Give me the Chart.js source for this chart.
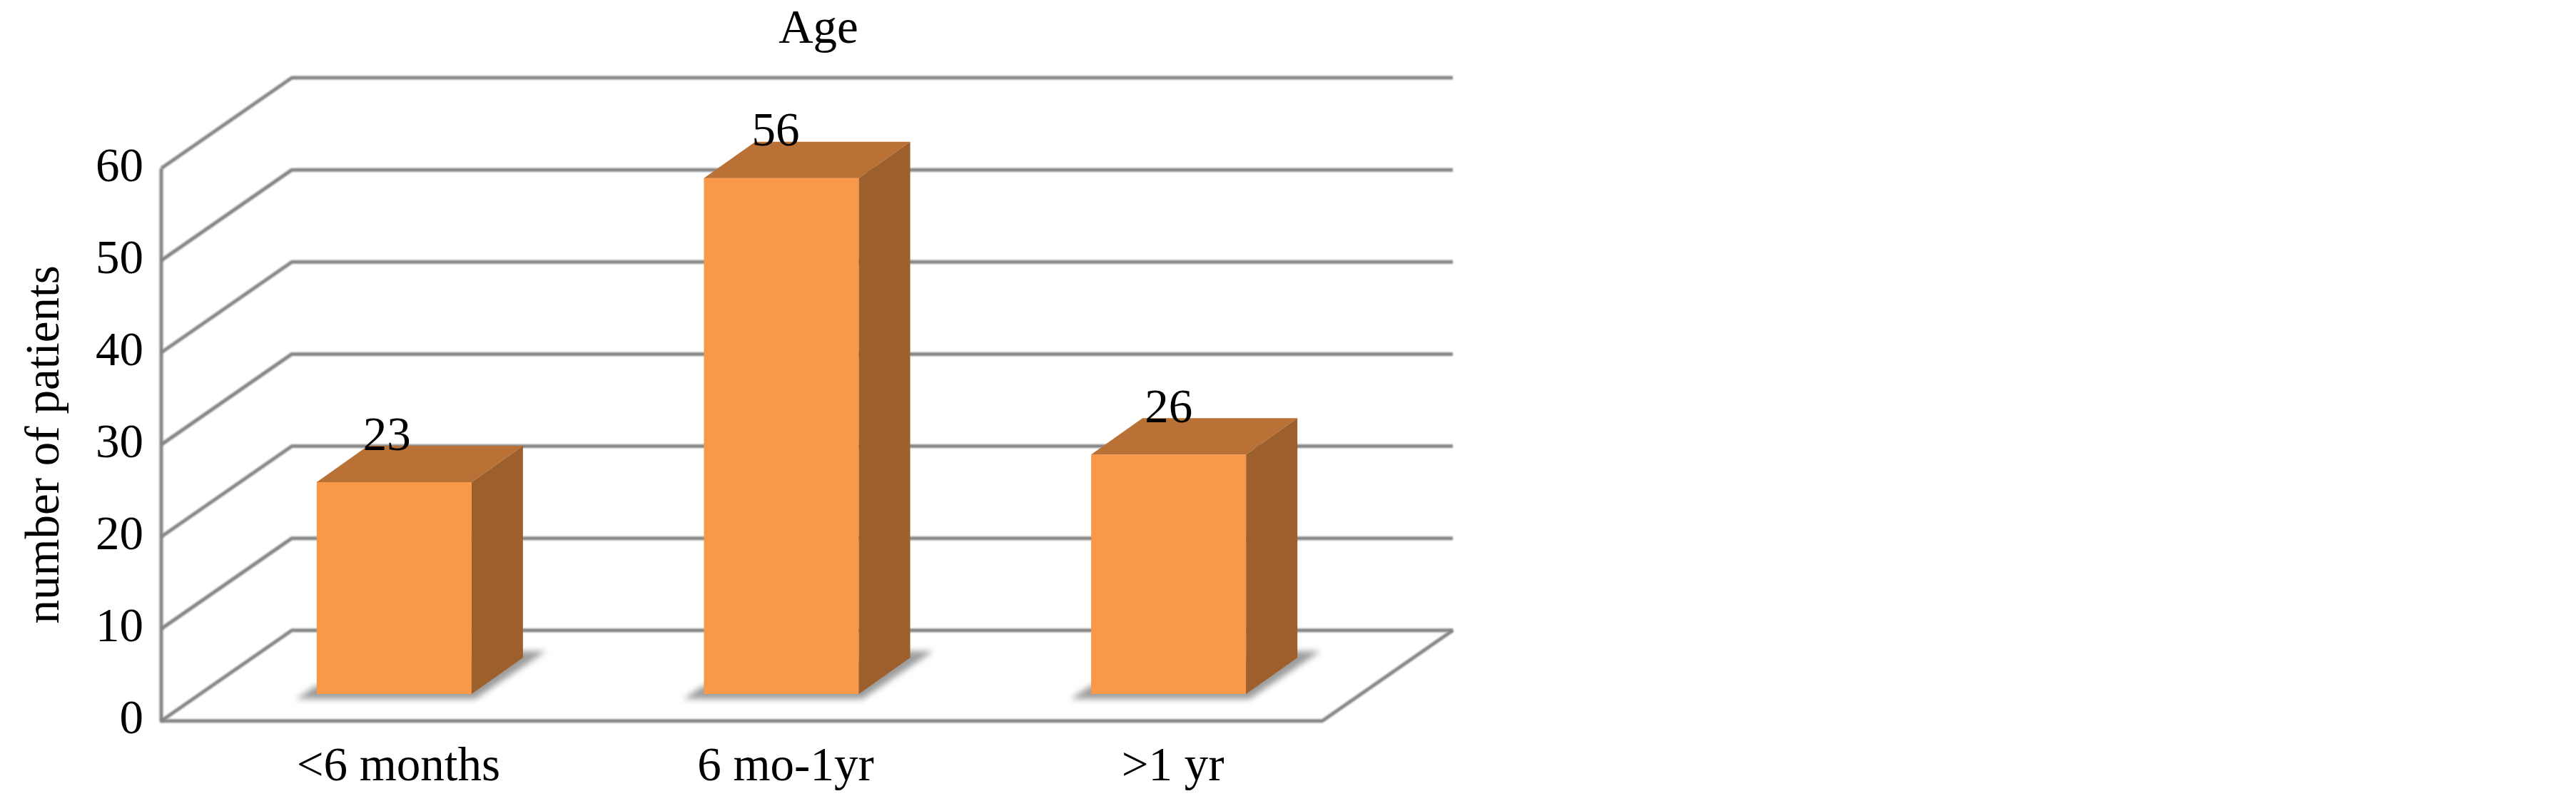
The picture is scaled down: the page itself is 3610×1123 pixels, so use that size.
<!DOCTYPE html>
<html>
<head>
<meta charset="utf-8">
<title>Age</title>
<script src="https://cdn.jsdelivr.net/npm/chart.js@4/dist/chart.umd.min.js"></script>
<style>
    html, body { margin: 0; padding: 0; background: #ffffff; }
    canvas { display: block; }
</style>
</head>
<body>
<canvas id="ageChart" width="3610" height="1123"></canvas>
<script>
const categories = ['<6 months', '6 mo-1yr', '>1 yr'];
const patients = [23, 56, 26];
const chartTitle = 'Age';
const yAxisTitle = 'number of patients';
const dataLabelNudge = [-10, -8, 0];

const font = '"Liberation Serif", "Times New Roman", serif';
const fontSize = 67;
const lineColor = '#858585';

// pseudo 3D box, the walls sit behind the front plane
const wall = { left: 226, floorRight: 1853, dx: 183, dy: 127 };
const depth = { dx: 72, dy: 51 };
// bars stand further back on the floor than the front axis
const barBaseLift = 2.93;

function line(ctx, points, width) {
    ctx.beginPath();
    points.forEach((p, i) => i ? ctx.lineTo(p[0], p[1]) : ctx.moveTo(p[0], p[1]));
    ctx.lineWidth = width;
    ctx.strokeStyle = lineColor;
    ctx.lineJoin = 'round';
    ctx.stroke();
}

function face(ctx, points, color) {
    ctx.beginPath();
    points.forEach((p, i) => i ? ctx.lineTo(p[0], p[1]) : ctx.moveTo(p[0], p[1]));
    ctx.closePath();
    ctx.fillStyle = color;
    ctx.fill();
}

const box3d = {
    id: 'box3d',
    beforeDatasetsDraw(chart) {
        const ctx = chart.ctx;
        const y = chart.scales.y;
        const backLeft = wall.left + wall.dx;
        const backRight = wall.floorRight + wall.dx;

        ctx.save();
        ctx.filter = 'blur(0.8px)';
        y.ticks.forEach((tick, i) => {
            const py = y.getPixelForTick(i);
            line(ctx, [[wall.left, py], [backLeft, py - wall.dy], [backRight, py - wall.dy]], 5);
        });
        const y0 = y.getPixelForValue(0);
        line(ctx, [[wall.left, y.getPixelForValue(60)], [wall.left, y0], [wall.floorRight, y0], [backRight, y0 - wall.dy]], 5);

        // soft shadow on the floor
        ctx.filter = 'blur(4px)';
        chart.getDatasetMeta(0).data.forEach(bar => {
            const l = bar.x - bar.width / 2;
            const r = bar.x + bar.width / 2;
            face(ctx, [[l - 29, bar.base + 7], [r + 5, bar.base + 7], [r + 104, bar.base - 60], [r + 70, bar.base - 60], [l, bar.base - 12]], '#9c9c9c');
        });
        ctx.restore();
    },
    afterDatasetsDraw(chart) {
        const ctx = chart.ctx;
        ctx.save();
        chart.getDatasetMeta(0).data.forEach((bar, i) => {
            const l = bar.x - bar.width / 2;
            const r = bar.x + bar.width / 2;
            face(ctx, [[l, bar.y], [r, bar.y], [r + depth.dx, bar.y - depth.dy], [l + depth.dx, bar.y - depth.dy]], '#b97135');
            face(ctx, [[r, bar.y], [r + depth.dx, bar.y - depth.dy], [r + depth.dx, bar.base - depth.dy], [r, bar.base]], '#9d5f2b');

            ctx.fillStyle = '#000000';
            ctx.font = fontSize + 'px ' + font;
            ctx.textAlign = 'center';
            ctx.textBaseline = 'middle';
            ctx.fillText(patients[i], bar.x + dataLabelNudge[i], bar.y - 63);
        });
        // title is centred over the plot box, not the canvas
        ctx.fillStyle = '#000000';
        ctx.font = fontSize + 'px ' + font;
        ctx.textAlign = 'center';
        ctx.textBaseline = 'middle';
        ctx.fillText(chartTitle, 1147, 42);
        ctx.restore();
    }
};

new Chart(document.getElementById('ageChart').getContext('2d'), {
    type: 'bar',
    plugins: [box3d],
    data: {
        labels: categories,
        datasets: [{
            data: patients,
            yAxisID: 'yBars',
            backgroundColor: '#f89848',
            categoryPercentage: 1,
            barPercentage: 0.4
        }]
    },
    options: {
        responsive: false,
        animation: false,
        devicePixelRatio: 1,
        layout: { padding: { top: 236, right: 1701, bottom: 0, left: 0 } },
        plugins: {
            legend: { display: false },
            title: { display: false },
            tooltip: { enabled: false }
        },
        scales: {
            x: {
                afterFit: scale => { scale.height = 99; },
                grid: { display: false },
                border: { display: false },
                ticks: {
                    color: '#000000',
                    padding: 17,
                    labelOffset: 6,
                    maxRotation: 0,
                    font: { family: font, size: fontSize }
                }
            },
            y: {
                min: 0,
                max: 60,
                afterFit: scale => { scale.width = 281; },
                grid: { display: false },
                border: { display: false },
                title: {
                    display: true,
                    text: yAxisTitle,
                    color: '#000000',
                    padding: { top: 24, bottom: 0 },
                    font: { family: font, size: fontSize }
                },
                ticks: {
                    stepSize: 10,
                    color: '#000000',
                    padding: 72,
                    font: { family: font, size: fontSize }
                }
            },
            yBars: {
                display: false,
                min: -barBaseLift,
                max: 60 - barBaseLift
            }
        }
    }
});
</script>
</body>
</html>
